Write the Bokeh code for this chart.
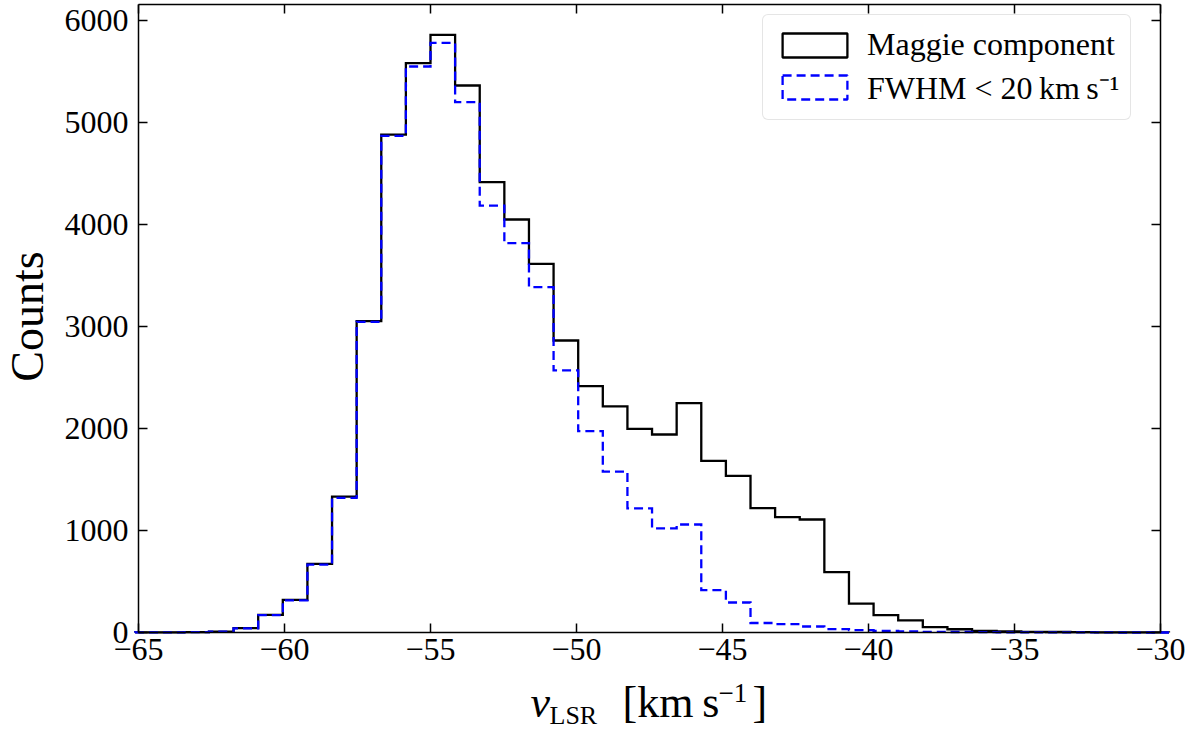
import numpy as np
from bokeh.plotting import figure
from bokeh.models import Range1d, LinearAxis, FixedTicker, Label
from bokeh.embed import file_html
from bokeh.resources import INLINE

# ---------------- data ----------------
bin_start = -65.116
bin_width = 0.843
maggie_counts = [1, 2, 4, 9, 42, 173, 320, 673, 1333, 3052, 4882, 5582, 5860, 5363,
                 4415, 4049, 3614, 2863, 2415, 2216, 1997, 1941, 2248, 1683, 1536,
                 1219, 1131, 1108, 592, 284, 170, 118, 52, 32, 16, 10, 7, 5, 3, 2, 2, 1]
narrow_counts = [1, 2, 4, 8, 40, 170, 315, 665, 1320, 3045, 4869, 5549, 5780, 5199,
                 4186, 3817, 3386, 2569, 1974, 1578, 1216, 1020, 1059, 415, 294,
                 93, 82, 59, 33, 24, 16, 11, 7, 5, 3, 2, 2, 1, 1, 1, 0, 0]
series_labels = ["Maggie component", "FWHM < 20\u2009km\u2009s\u207b\u00b9"]
x_ticks = [-65, -60, -55, -50, -45, -40, -35, -30]
x_tick_labels = ["\u221265", "\u221260", "\u221255", "\u221250", "\u221245",
                 "\u221240", "\u221235", "\u221230"]
y_ticks = [0, 1000, 2000, 3000, 4000, 5000, 6000]
y_tick_labels = ["0", "1000", "2000", "3000", "4000", "5000", "6000"]
y_title = "Counts"
x_lim = (-65, -30)
y_top = 6157

FONT = "Liberation Serif"

# ---------------- geometry (canvas pixels) ----------------
W, H = 1200, 733
AX_L, AX_R, AX_T, AX_B = 138, 1160, 4, 632   # axes box inside the canvas
px_per_x = (AX_R - AX_L) / (x_lim[1] - x_lim[0])
px_per_y = (AX_B - AX_T) / y_top
x_range = Range1d(x_lim[0] - AX_L / px_per_x, x_lim[1] + (W - AX_R) / px_per_x)
y_range = Range1d(-(H - AX_B) / px_per_y, y_top + AX_T / px_per_y)


def dx(cx):
    return x_lim[0] + (cx - AX_L) / px_per_x


def dy(cy):
    return (AX_B - cy) / px_per_y


edges = bin_start + bin_width * np.arange(len(maggie_counts) + 1)


def step_outline(counts):
    xs = np.repeat(edges, 2)
    ys = np.concatenate([[0], np.repeat(np.asarray(counts, dtype=float), 2), [0]])
    return xs, ys


p = figure(width=W, height=H, output_backend="svg", toolbar_location=None,
           x_range=x_range, y_range=y_range,
           x_axis_location=None, y_axis_location=None,
           min_border=0, background_fill_color="white", border_fill_color="white")
p.grid.visible = False
p.outline_line_color = None

# histogram outlines (black drawn first, dashed blue on top)
mx, my = step_outline(maggie_counts)
nx, ny = step_outline(narrow_counts)
p.line(mx, my, line_color="black", line_width=2.3, line_join="miter")
p.line(nx, ny, line_color="#0000ff", line_width=2.3, line_dash="9 5",
       line_join="miter")

# legend proxies (rectangle outlines, like matplotlib step-histogram patches)
p.quad(left=[np.nan], right=[np.nan], top=[np.nan], bottom=[np.nan], fill_alpha=0,
       line_color="black", line_width=2.3, legend_label=series_labels[0])
p.quad(left=[np.nan], right=[np.nan], top=[np.nan], bottom=[np.nan], fill_alpha=0,
       line_color="#0000ff", line_width=2.3, line_dash="9 5",
       legend_label=series_labels[1])


def make_axis(ticks, labels, show, **kw):
    ax = LinearAxis(ticker=FixedTicker(ticks=ticks), **kw)
    ax.axis_line_color = "black"
    ax.axis_line_width = 1.5
    ax.major_tick_in = 9
    ax.major_tick_out = 0
    ax.major_tick_line_width = 1.5
    ax.major_tick_line_color = "black"
    ax.minor_tick_line_color = None
    ax.major_label_text_font = FONT
    ax.major_label_text_color = "black"
    if show:
        ax.major_label_overrides = {t: l for t, l in zip(ticks, labels)}
        ax.major_label_text_font_size = "32px"
    else:
        ax.major_label_overrides = {t: "" for t in ticks}
        ax.major_label_text_font_size = "0px"
        ax.major_label_standoff = 0
    return ax


bottom_ax = make_axis(x_ticks, x_tick_labels, True, fixed_location=0, bounds=x_lim)
bottom_ax.major_label_standoff = 6
top_ax = make_axis(x_ticks, x_tick_labels, False, fixed_location=y_top, bounds=x_lim)
left_ax = make_axis(y_ticks, y_tick_labels, True, fixed_location=x_lim[0],
                    bounds=(0, y_top))
left_ax.major_label_standoff = 10
right_ax = make_axis(y_ticks, y_tick_labels, False, fixed_location=x_lim[1],
                     bounds=(0, y_top))

p.add_layout(bottom_ax, "below")
p.add_layout(top_ax, "above")
p.add_layout(left_ax, "left")
p.add_layout(right_ax, "right")

# y-axis title
p.add_layout(Label(x=dx(27), y=dy(316), text=y_title, angle=np.pi / 2,
                   text_font=FONT, text_font_size="46px", text_color="black",
                   text_align="center", text_baseline="middle"))

# x-axis title built from pieces: v_LSR [km s^-1]  (canvas x of left edge, centre y)
pieces = [
    ("v", 530, 702, "44px", "italic"),
    ("LSR", 549, 715, "26px", "normal"),
    ("[km\u2009s", 622, 702, "44px", "normal"),
    ("\u22121", 718, 692, "27px", "normal"),
    ("]", 752, 702, "44px", "normal"),
]
for txt, lx, ly, fs, st in pieces:
    p.add_layout(Label(x=dx(lx), y=dy(ly), text=txt, text_font=FONT,
                       text_font_size=fs, text_font_style=st,
                       text_color="black", text_align="left",
                       text_baseline="middle"))

lg = p.legend[0]
lg.location = (762, H - 120)
lg.margin = 0
lg.padding = 11
lg.spacing = 2
lg.glyph_width = 81
lg.glyph_height = 30
lg.label_standoff = 12
lg.label_text_font = FONT
lg.label_text_font_size = "32px"
lg.label_text_color = "black"
lg.border_line_color = "#cccccc"
lg.border_line_width = 1.2
lg.border_radius = 6
lg.background_fill_color = "white"
lg.background_fill_alpha = 0.8

open("out.html", "w").write(file_html(p, INLINE))
